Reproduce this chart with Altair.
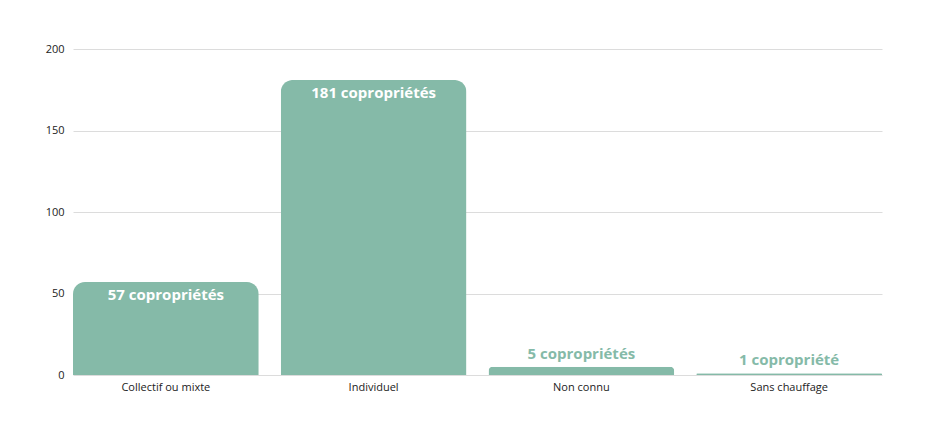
import altair as alt
import pandas as pd

categories = ["Collectif ou mixte", "Individuel", "Non connu", "Sans chauffage"]
counts = [57, 181, 5, 1]
labels = ["57 copropriétés", "181 copropriétés", "5 copropriétés", "1 copropriété"]
inside = [True, True, False, False]

df = pd.DataFrame({"cat": categories, "n": counts, "label": labels, "inside": inside})

GREEN = "#85BAA8"

x = alt.X("cat:N", sort=categories, title=None,
          scale=alt.Scale(paddingInner=0.106, paddingOuter=0),
          axis=alt.Axis(labelAngle=0, domain=False, ticks=False, grid=False, labelPadding=6,
                        labelFont="Open Sans", labelFontSize=11, labelColor="#222222"))
y = alt.Y("n:Q", title=None,
          scale=alt.Scale(domain=[0, 200]),
          axis=alt.Axis(values=[0, 50, 100, 150, 200], domain=False, ticks=False,
                        labelPadding=9, labelFont="Open Sans", labelFontSize=11,
                        labelColor="#222222", gridColor="#dcdcdc", gridWidth=1))

base = alt.Chart(df)

bars = base.mark_bar(color=GREEN, cornerRadiusTopLeft=12, cornerRadiusTopRight=12).encode(x=x, y=y)

txt_in = base.transform_filter("datum.inside").mark_text(
    color="white", font="Open Sans", fontWeight="bold", fontSize=15, baseline="middle", dy=13
).encode(x=alt.X("cat:N", sort=categories), y="n:Q", text="label:N")

txt_out = base.transform_filter("!datum.inside").mark_text(
    color=GREEN, font="Open Sans", fontWeight="bold", fontSize=15, baseline="middle", dy=-13
).encode(x=alt.X("cat:N", sort=categories), y="n:Q", text="label:N")

chart = (bars + txt_in + txt_out).properties(
    width=809, height=326,
    background="white",
    autosize=alt.AutoSizeParams(type="none"),
    padding={"left": 65, "top": 41, "right": 30, "bottom": 50},
).configure_view(strokeWidth=0, stroke="transparent")

chart.save("out.html", embed_options={"renderer": "svg", "actions": False})
